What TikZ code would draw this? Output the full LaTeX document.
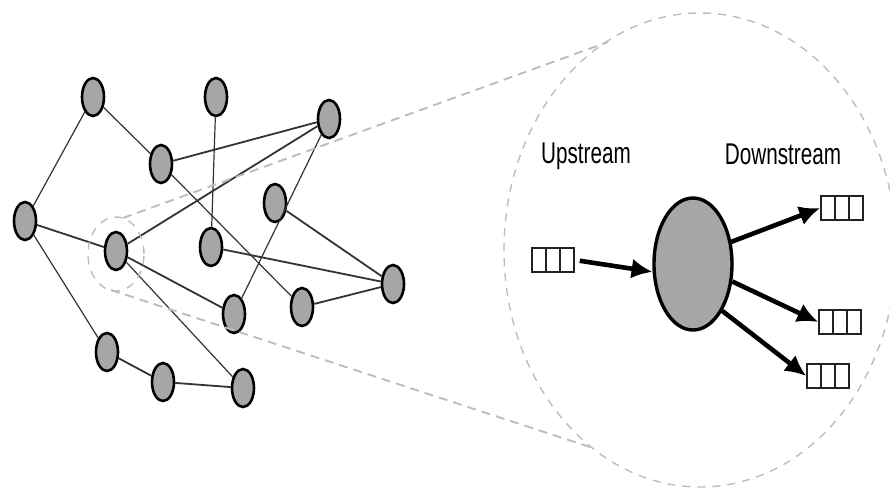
\documentclass[tikz,border=0pt]{standalone}
\usepackage{fontspec}
\setmainfont{Liberation Sans}
\usetikzlibrary{arrows.meta,shapes.geometric,calc}
\definecolor{nodegray}{HTML}{A6A6A6}
\definecolor{edgegray}{HTML}{333333}
\definecolor{zoomgray}{HTML}{BDBDBD}
\definecolor{qgray}{HTML}{222222}
\begin{document}
\begin{tikzpicture}[x=1pt,y=-1pt,
  gnode/.style={ellipse, draw=black, line width=2.6pt, fill=nodegray, minimum width=22pt, minimum height=38pt, inner sep=0pt},
  thinedge/.style={draw=edgegray, line width=1.2pt},
  thickedge/.style={draw=edgegray, line width=1.8pt},
  zoomline/.style={draw=zoomgray, line width=1.9pt, dash pattern=on 9pt off 6pt},
  zoomring/.style={draw=zoomgray, line width=1.4pt, dash pattern=on 8pt off 7pt},
  queue/.style={draw=qgray, line width=1.6pt, minimum width=42pt, minimum height=24pt, inner sep=0pt,
    path picture={\draw[line width=1.6pt, draw=qgray]
      ($(path picture bounding box.south west)!1/3!(path picture bounding box.south east)$) --
      ($(path picture bounding box.north west)!1/3!(path picture bounding box.north east)$)
      ($(path picture bounding box.south west)!2/3!(path picture bounding box.south east)$) --
      ($(path picture bounding box.north west)!2/3!(path picture bounding box.north east)$);}},
  flow/.style={line width=4.6pt, -{Latex[length=21pt,width=20pt]}},
  lbl/.style={font=\fontsize{30}{32}\selectfont, anchor=base, inner sep=0pt}
]
\useasboundingbox (0,0) rectangle (890,488);

% graph nodes
\node[gnode] (a) at (93,97) {};
\node[gnode] (b) at (216,97) {};
\node[gnode] (c) at (329,119) {};
\node[gnode] (d) at (161,164) {};
\node[gnode] (e) at (25,221) {};
\node[gnode] (f) at (275,203) {};
\node[gnode] (g) at (116,251) {};
\node[gnode] (h) at (211,247) {};
\node[gnode] (i) at (393,284) {};
\node[gnode] (j) at (234,314) {};
\node[gnode] (k) at (302,307) {};
\node[gnode] (l) at (107,352) {};
\node[gnode] (m) at (163,382) {};
\node[gnode] (n) at (243,388) {};

% graph edges
\draw[thinedge] (a) -- (e);
\draw[thinedge] (a) -- (d);
\draw[thickedge] (d) -- (c);
\draw[thinedge] (d) -- (k);
\draw[thinedge] (b) -- (h);
\draw[thickedge] (c) -- (g);
\draw[thinedge] (c) -- (j);
\draw[thickedge] (e) -- (g);
\draw[thinedge] (e) -- (l);
\draw[thickedge] (g) -- (j);
\draw[thinedge] (g) -- (n);
\draw[thickedge] (f) -- (i);
\draw[thickedge] (h) -- (i);
\draw[thickedge] (k) -- (i);
\draw[thickedge] (l) -- (m);
\draw[thickedge] (m) -- (n);

% zoom indication
\node[ellipse, zoomring, minimum width=56pt, minimum height=74pt, inner sep=0pt] (halo) at (116,254) {};
\node[ellipse, zoomring, minimum width=392pt, minimum height=474pt, inner sep=0pt] (ring) at (700,250) {};
\coordinate (hu) at (123,218);
\coordinate (hd) at (111,290);
\coordinate (ru) at (608,42);
\coordinate (rd) at (593,448);
\draw[zoomline] (hu) -- (ru);
\draw[zoomline] (hd) -- (rd);

% detail
\node[lbl] (up) at (586,163) {\scalebox{0.69}[1]{Upstream}};
\node[lbl] (down) at (783,164) {\scalebox{0.69}[1]{Downstream}};
\node[ellipse, draw=black, line width=3.4pt, fill=nodegray, minimum width=78pt, minimum height=132pt, inner sep=0pt] (big) at (693,264) {};
\node[queue] (q0) at (553,260) {};
\node[queue] (q1) at (842,208) {};
\node[queue] (q2) at (840,322) {};
\node[queue] (q3) at (828,376) {};
\draw[flow, shorten <=5pt] (q0.east) -- (big.191);
\draw[flow] (big.30) -- (q1.west);
\draw[flow] (big.-24) -- (q2.west);
\draw[flow] (big.-58) -- (q3.west);
\end{tikzpicture}
\end{document}
